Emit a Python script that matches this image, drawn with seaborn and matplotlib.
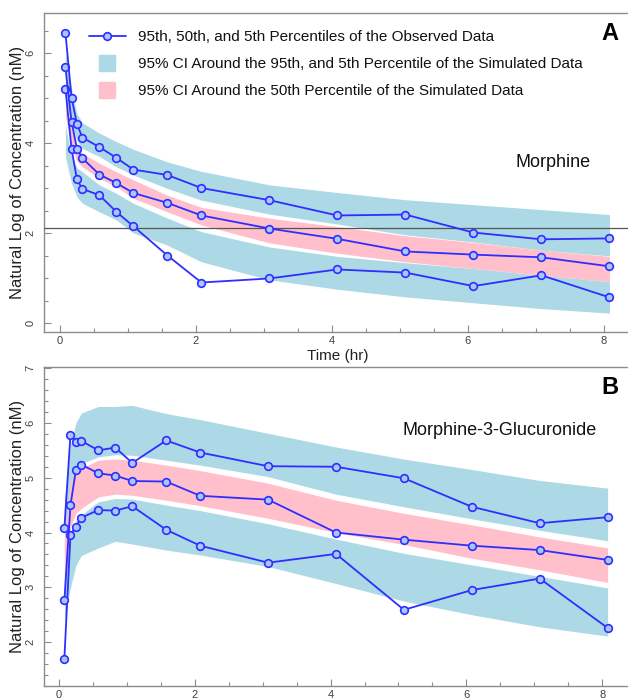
import numpy as np
import pandas as pd
import matplotlib
matplotlib.use("Agg")
import matplotlib.pyplot as plt
from matplotlib.lines import Line2D
from matplotlib.ticker import MultipleLocator
import seaborn as sns

# ---------------- data ----------------
time = [0.08, 0.17, 0.25, 0.33, 0.58, 0.83, 1.08, 1.58, 2.08, 3.08, 4.08, 5.08, 6.08, 7.08, 8.08]

# Panel A: Morphine, observed percentiles
mor_p95 = [6.45, 5.01, 4.42, 4.12, 3.91, 3.67, 3.41, 3.29, 3.00, 2.73, 2.39, 2.41, 2.01, 1.86, 1.88]
mor_p50 = [5.68, 4.47, 3.87, 3.66, 3.30, 3.11, 2.89, 2.67, 2.39, 2.10, 1.87, 1.59, 1.52, 1.46, 1.26]
mor_p05 = [5.21, 3.87, 3.19, 2.98, 2.84, 2.47, 2.15, 1.50, 0.90, 0.99, 1.19, 1.12, 0.82, 1.06, 0.57]
# Panel A: simulated confidence bands
mor_hi_top = [6.00, 5.20, 4.65, 4.45, 4.22, 4.03, 3.86, 3.58, 3.37, 3.07, 2.90, 2.74, 2.63, 2.52, 2.41]
mor_hi_bot = [5.00, 4.40, 4.05, 3.88, 3.70, 3.47, 3.29, 2.99, 2.73, 2.42, 2.20, 1.96, 1.80, 1.62, 1.49]
mor_md_top = [5.00, 4.30, 3.95, 3.77, 3.55, 3.36, 3.18, 2.84, 2.57, 2.33, 2.14, 1.94, 1.79, 1.62, 1.48]
mor_md_bot = [4.60, 3.90, 3.60, 3.47, 3.21, 3.03, 2.77, 2.47, 2.18, 1.78, 1.55, 1.36, 1.21, 1.06, 0.92]
mor_lo_top = [4.40, 3.70, 3.45, 3.36, 3.07, 2.88, 2.66, 2.33, 2.03, 1.69, 1.48, 1.34, 1.21, 1.06, 0.92]
mor_lo_bot = [3.70, 3.10, 2.80, 2.66, 2.47, 2.29, 2.00, 1.73, 1.36, 0.96, 0.75, 0.58, 0.45, 0.32, 0.22]
mor_ref_line = 2.11

# Panel B: Morphine-3-Glucuronide, observed percentiles
m3g_p95 = [4.08, 5.78, 5.65, 5.67, 5.50, 5.55, 5.27, 5.68, 5.46, 5.21, 5.20, 4.99, 4.47, 4.17, 4.28]
m3g_p50 = [2.76, 4.50, 5.14, 5.24, 5.08, 5.04, 4.94, 4.93, 4.67, 4.60, 4.00, 3.87, 3.76, 3.68, 3.50]
m3g_p05 = [1.70, 3.96, 4.11, 4.27, 4.41, 4.40, 4.48, 4.05, 3.76, 3.45, 3.61, 2.59, 2.95, 3.16, 2.26]
# Panel B: simulated confidence bands
m3g_hi_top = [4.60, 5.60, 6.00, 6.18, 6.30, 6.30, 6.32, 6.17, 6.06, 5.81, 5.56, 5.34, 5.15, 4.95, 4.81]
m3g_hi_bot = [3.60, 4.90, 5.15, 5.26, 5.38, 5.42, 5.41, 5.32, 5.23, 5.02, 4.70, 4.47, 4.25, 4.04, 3.85]
m3g_md_top = [3.90, 4.95, 5.10, 5.17, 5.32, 5.34, 5.32, 5.23, 5.13, 4.90, 4.59, 4.35, 4.14, 3.92, 3.72]
m3g_md_bot = [3.00, 4.10, 4.35, 4.44, 4.65, 4.70, 4.68, 4.59, 4.49, 4.26, 4.00, 3.78, 3.53, 3.32, 3.09]
m3g_lo_top = [3.30, 4.00, 4.20, 4.32, 4.56, 4.62, 4.61, 4.50, 4.40, 4.16, 3.88, 3.62, 3.41, 3.20, 2.99]
m3g_lo_bot = [2.40, 3.00, 3.40, 3.58, 3.72, 3.84, 3.79, 3.68, 3.59, 3.38, 3.07, 2.75, 2.50, 2.28, 2.11]

legend_labels = [
    "95th, 50th, and 5th Percentiles of the Observed Data",
    "95% CI Around the 95th, and 5th Percentile of the Simulated Data",
    "95% CI Around the 50th Percentile of the Simulated Data",
]
ylabel = "Natural Log of Concentration (nM)"
xlabel = "Time (hr)"

# ---------------- style ----------------
sns.set_theme(style="white")
plt.rcParams["font.family"] = ["Liberation Sans", "DejaVu Sans"]

BLUE_BAND = "#ADD8E6"
PINK_BAND = "#FFC0CB"
LINE = "#2E2EFF"
MFACE = "#A9C6FF"
SPINE = "#8C8C8C"
TICKLBL = "#404040"

fig = plt.figure(figsize=(6.28, 6.99), dpi=100)
axA = fig.add_axes([44 / 628, 1 - 332 / 699, 584 / 628, 319 / 699])
axB = fig.add_axes([44 / 628, 1 - 686 / 699, 584 / 628, 319 / 699])


def draw_panel(ax, p95, p50, p05, hi_top, hi_bot, md_top, md_bot, lo_top, lo_bot):
    ax.fill_between(time, hi_bot, hi_top, color=BLUE_BAND, lw=0, zorder=1)
    ax.fill_between(time, lo_bot, lo_top, color=BLUE_BAND, lw=0, zorder=1)
    ax.fill_between(time, md_bot, md_top, color=PINK_BAND, lw=0, zorder=2)
    df = pd.DataFrame({
        "time": time * 3,
        "value": list(p95) + list(p50) + list(p05),
        "series": ["p95"] * len(time) + ["p50"] * len(time) + ["p05"] * len(time),
    })
    sns.lineplot(data=df, x="time", y="value", units="series", estimator=None,
                 sort=False, color=LINE, lw=1.3, marker="o", markersize=5.5,
                 markerfacecolor=MFACE, markeredgecolor=LINE, markeredgewidth=1.2,
                 legend=False, ax=ax, zorder=4)


def style_axes(ax, ymajor, yminor):
    for side in ["left", "top", "bottom"]:
        ax.spines[side].set_visible(True)
        ax.spines[side].set_color(SPINE)
        ax.spines[side].set_linewidth(1.0)
    ax.spines["right"].set_visible(False)
    ax.xaxis.set_major_locator(MultipleLocator(2))
    ax.xaxis.set_minor_locator(MultipleLocator(0.5))
    ax.yaxis.set_major_locator(MultipleLocator(ymajor))
    ax.yaxis.set_minor_locator(MultipleLocator(yminor))
    ax.tick_params(which="both", direction="in", color=SPINE, bottom=True, left=True,
                   top=False, right=False, labelsize=8, labelcolor=TICKLBL)
    ax.tick_params(axis="x", pad=3)
    ax.tick_params(axis="y", pad=6, labelrotation=90)
    ax.tick_params(which="major", length=5, width=0.8)
    ax.tick_params(which="minor", length=3, width=0.8)
    for lbl in ax.get_yticklabels():
        lbl.set_va("center")
    ax.set_xlabel("")
    ax.set_ylabel(ylabel, fontsize=12, color="#222222")
    ax.yaxis.set_label_coords(-0.032, 0.5)
    ax.grid(False)


# Panel A
draw_panel(axA, mor_p95, mor_p50, mor_p05, mor_hi_top, mor_hi_bot,
           mor_md_top, mor_md_bot, mor_lo_top, mor_lo_bot)
axA.axhline(mor_ref_line, color="#555555", lw=0.9, zorder=3)
axA.set_xlim(-0.235, 8.353)
axA.set_ylim(-0.2, 6.89)
style_axes(axA, 2, 0.5)
axA.set_xlabel(xlabel, fontsize=11, color="#222222")
axA.xaxis.set_label_coords(0.503, -0.054)
axA.text(0.969, 0.937, "A", transform=axA.transAxes, fontsize=17, fontweight="bold",
         ha="center", va="center", color="black")
axA.text(0.872, 0.53, "Morphine", transform=axA.transAxes, fontsize=13,
         ha="center", va="center", color="#111111")

handles = [
    Line2D([0], [0], color=LINE, lw=1.3, marker="o", markersize=5.5,
           markerfacecolor=MFACE, markeredgecolor=LINE, markeredgewidth=1.2),
    Line2D([0], [0], color="none", marker="s", markersize=12, markerfacecolor=BLUE_BAND,
           markeredgecolor=BLUE_BAND),
    Line2D([0], [0], color="none", marker="s", markersize=12, markerfacecolor=PINK_BAND,
           markeredgecolor=PINK_BAND),
]
leg = axA.legend(handles, legend_labels, loc="upper left",
                 bbox_to_anchor=(89 / 628, 1 - 30 / 699), bbox_transform=fig.transFigure,
                 frameon=False, fontsize=11, handlelength=2.4, handletextpad=0.8,
                 labelspacing=0.85, borderpad=0, borderaxespad=0)
for t in leg.get_texts():
    t.set_color("#111111")

# Panel B
draw_panel(axB, m3g_p95, m3g_p50, m3g_p05, m3g_hi_top, m3g_hi_bot,
           m3g_md_top, m3g_md_bot, m3g_lo_top, m3g_lo_bot)
axB.set_xlim(-0.22, 8.38)
axB.set_ylim(1.2, 7.02)
style_axes(axB, 1, 0.2)
axB.text(0.969, 0.937, "B", transform=axB.transAxes, fontsize=17, fontweight="bold",
         ha="center", va="center", color="black")
axB.text(0.781, 0.80, "Morphine-3-Glucuronide", transform=axB.transAxes, fontsize=13,
         ha="center", va="center", color="#111111")

fig.savefig("out.png", dpi=100)
